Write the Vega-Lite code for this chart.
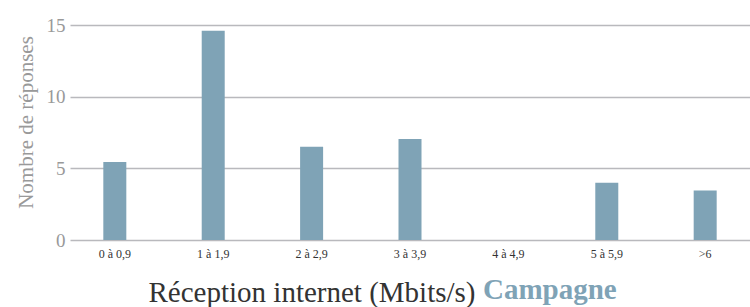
{
  "$schema": "https://vega.github.io/schema/vega-lite/v6.json",
  "width": 680,
  "height": 215,
  "autosize": "none",
  "padding": {"left": 70, "top": 25, "right": 0, "bottom": 67},
  "background": "white",
  "config": {"view": {"stroke": null}},
  "title": {
    "text": "Campagne",
    "orient": "bottom",
    "anchor": "start",
    "frame": "group",
    "font": "Liberation Serif",
    "fontSize": 29,
    "fontWeight": "bold",
    "color": "#7fa3b6",
    "baseline": "alphabetic",
    "offset": 0,
    "dx": 413,
    "dy": -8
  },
  "data": {
    "values": [
      {"tranche": "0 à 0,9", "reponses": 5.45},
      {"tranche": "1 à 1,9", "reponses": 14.6},
      {"tranche": "2 à 2,9", "reponses": 6.5},
      {"tranche": "3 à 3,9", "reponses": 7.05},
      {"tranche": "4 à 4,9", "reponses": 0},
      {"tranche": "5 à 5,9", "reponses": 4.0},
      {"tranche": ">6", "reponses": 3.45}
    ]
  },
  "mark": {"type": "bar", "width": 23, "color": "#7fa3b6"},
  "encoding": {
    "x": {
      "field": "tranche",
      "type": "nominal",
      "sort": null,
      "scale": {"paddingInner": 0.089, "paddingOuter": 0},
      "axis": {
        "title": "Réception internet (Mbits/s)",
        "titleFont": "Liberation Serif",
        "titleFontSize": 29,
        "titleFontWeight": "normal",
        "titleColor": "#333333",
        "titleAlign": "right",
        "titleBaseline": "alphabetic",
        "titleX": 405,
        "titleY": 61,
        "labelAngle": 0,
        "labelFont": "Liberation Serif",
        "labelFontSize": 12,
        "labelColor": "#333333",
        "labelPadding": 8,
        "ticks": false,
        "domain": false,
        "grid": false
      }
    },
    "y": {
      "field": "reponses",
      "type": "quantitative",
      "scale": {"domain": [0, 15], "nice": false},
      "axis": {
        "title": "Nombre de réponses",
        "values": [0, 5, 10, 15],
        "titleFont": "Liberation Serif",
        "titleFontSize": 21,
        "titleFontWeight": "normal",
        "titleColor": "#999999",
        "titlePadding": 10,
        "titleY": 97,
        "labelFont": "Liberation Serif",
        "labelFontSize": 19,
        "labelColor": "#999999",
        "labelPadding": 5,
        "ticks": false,
        "domain": false,
        "grid": true,
        "gridColor": "#b9b9bd",
        "gridWidth": 1.5
      }
    }
  }
}
